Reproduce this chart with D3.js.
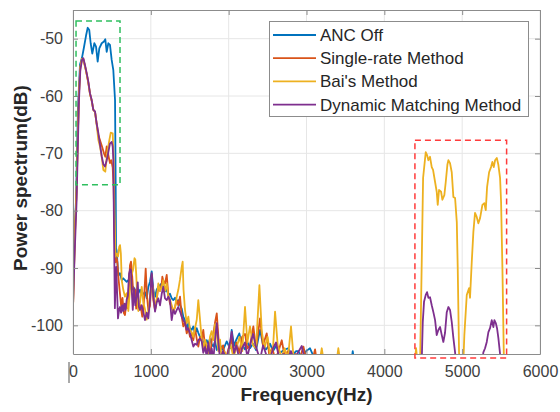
<!DOCTYPE html>
<html lang="en">
<head>
  <meta charset="UTF-8">
  <title>Power spectrum</title>
  <script src="https://d3js.org/d3.v7.min.js"></script>
  <style>
    body {
      margin: 0;
      background: #fff;
      font-family: Arial, "Liberation Sans", sans-serif;
    }
  </style>
</head>
<body>
  <div id="chart"></div>
  <script>
    // tick values
    const xTicks = [0, 1000, 2000, 3000, 4000, 5000, 6000];
    const yTicks = [-100, -90, -80, -70, -60, -50];

    const seriesNames = ["ANC Off", "Single-rate Method", "Bai's Method", "Dynamic Matching Method"];
    const seriesColors = ["#0072BD", "#D95319", "#EDB120", "#7E2F8E"];

    // [frequency (Hz), power (dB)]
    const ancOff = [[0,-91],[39,-78],[64,-62],[90,-54.5],[116,-53.3],[141,-51.5],[167,-49.5],[189,-48.1],[209,-48.5],[227,-50.8],[248,-52.6],[274,-50.8],[296,-51.4],[317,-54.0],[338,-51.7],[369,-50.8],[398,-50.5],[415,-50.1],[433,-52.3],[454,-50.8],[475,-51.1],[497,-53.7],[518,-55.5],[540,-60.7],[548,-75],[553,-86.5],[561,-87],[582,-91.3],[604,-90.9],[626,-92.1],[646,-91.8],[668,-92.1],[690,-92.4],[711,-92.1],[732,-93],[754,-93.8],[775,-93.3],[797,-94.4],[818,-93.5],[839,-94.4],[861,-93.8],[883,-94.7],[903,-94.5],[925,-94.2],[947,-95.3],[968,-93.3],[989,-92.4],[1011,-90.6],[1032,-93.8],[1054,-95],[1075,-93.8],[1096,-93.3],[1118,-93],[1140,-92.7],[1160,-93.3],[1182,-94.1],[1204,-93.8],[1225,-94.7],[1246,-94.5],[1268,-95.3],[1289,-95.6],[1311,-95.2],[1333,-95.9],[1353,-95.6],[1375,-96.5],[1397,-97.1],[1417,-98.5],[1439,-99.1],[1461,-100.8],[1482,-99.6],[1503,-100.5],[1525,-100.8],[1546,-100.2],[1568,-101.4],[1590,-100.5],[1610,-101.3],[1632,-102],[1654,-102.3],[1674,-103.1],[1696,-103.7],[1718,-102.6],[1739,-103.2],[1760,-102.3],[1782,-103.3],[1803,-103.7],[1825,-102.8],[1847,-104.3],[1889,-103.4],[1928,-104.3],[1975,-102.8],[2017,-104],[2039,-100.8],[2069,-103.6],[2095,-102.6],[2137,-101.4],[2172,-103.6],[2210,-104.2],[2232,-102.6],[2274,-104],[2313,-103.2],[2352,-104.3],[2403,-100.8],[2442,-103.5],[2480,-104.2],[2531,-103.2],[2570,-104.5],[2609,-103.6],[2660,-104.8],[2711,-104.3],[2763,-104],[2814,-105.3],[2866,-104.5],[2895,-104.5],[2943,-105.8],[2994,-104.5],[3045,-104],[3097,-105.6],[3148,-106.5],[3300,-108],[3570,-107],[3594,-104.5],[3620,-107],[3800,-109]];

    const singleRate = [[0,-97],[13,-90],[30,-82],[47,-76],[60,-68],[77,-59.5],[94,-55],[116,-53.5],[133,-53.6],[154,-54.8],[176,-56.2],[197,-57.7],[218,-59.6],[240,-60.8],[261,-62.4],[283,-62.8],[304,-64.8],[326,-66.8],[347,-67.7],[373,-68.8],[398,-70],[415,-70.6],[433,-68.8],[458,-70.6],[475,-71.7],[492,-71.2],[510,-72.5],[522,-76],[533,-84],[546,-89],[561,-88.3],[570,-89],[586,-92],[600,-94],[620,-96.8],[636,-95.2],[652,-97.8],[668,-98.2],[684,-96.2],[700,-97],[716,-94],[732,-89.5],[745,-88.9],[754,-90.1],[768,-93],[784,-95.6],[797,-93.8],[812,-97.1],[826,-94.4],[845,-97.3],[868,-96.5],[890,-98.5],[910,-96],[934,-90.1],[950,-94.8],[968,-97.3],[989,-96.6],[1011,-91.2],[1032,-95.6],[1054,-97.3],[1075,-95.6],[1096,-93.3],[1118,-94],[1140,-92.7],[1148,-91.5],[1160,-92.2],[1182,-92.7],[1204,-91.2],[1225,-94.7],[1246,-96.2],[1268,-96.8],[1289,-97.6],[1311,-96.8],[1333,-95.6],[1353,-96.5],[1375,-95],[1397,-98.5],[1417,-100.2],[1439,-99.5],[1461,-101.4],[1482,-100.5],[1503,-102],[1525,-101.4],[1546,-102.6],[1568,-100.5],[1590,-102.4],[1610,-103.7],[1632,-102],[1654,-102.6],[1674,-100.8],[1696,-103.7],[1718,-104.5],[1739,-103.6],[1760,-106],[1782,-102.6],[1803,-101.5],[1825,-99.5],[1847,-97.9],[1868,-102],[1889,-104.5],[1928,-103.5],[1960,-106],[2000,-104],[2039,-102.5],[2069,-105],[2100,-103],[2137,-104.8],[2172,-102],[2210,-101.5],[2240,-104],[2274,-103.5],[2317,-100.2],[2352,-104],[2403,-98.8],[2440,-103.5],[2489,-101.4],[2520,-105],[2560,-104],[2600,-106],[2640,-104.5],[2682,-102.6],[2720,-105.5],[2760,-104.5],[2800,-106],[2860,-105],[2900,-106.5],[2960,-103.7],[3000,-106],[3060,-107],[3110,-104.2],[3140,-107],[3300,-110]];

    const baiMethod = [[0,-97],[13,-90],[30,-82],[47,-76],[60,-68],[77,-59.5],[94,-55],[116,-53.5],[133,-53.6],[154,-54.8],[176,-56.2],[197,-57.7],[218,-59.6],[240,-60.8],[261,-62.4],[283,-62.8],[304,-65],[326,-67.7],[347,-68.8],[369,-70.6],[390,-72.9],[415,-73.2],[441,-69.7],[467,-67.7],[485,-66.4],[510,-66.5],[522,-71],[533,-80],[546,-88],[561,-87.5],[578,-88],[594,-86.3],[604,-86],[615,-87.5],[626,-92.1],[646,-93.8],[668,-95],[690,-94.4],[711,-97.5],[725,-95],[745,-91.5],[770,-90.4],[790,-88.3],[800,-88.5],[812,-91],[826,-95.3],[839,-97.5],[861,-96],[883,-93.3],[903,-96],[925,-97.2],[947,-99],[968,-97.5],[989,-95],[1011,-92.7],[1032,-93.8],[1054,-97.3],[1075,-95.5],[1096,-92.7],[1118,-94],[1140,-93.3],[1160,-92.1],[1182,-94],[1204,-92.7],[1225,-95],[1246,-95.5],[1268,-96.5],[1289,-97.5],[1311,-96.8],[1333,-95],[1353,-93.8],[1375,-92],[1397,-89.8],[1409,-88.9],[1420,-93.8],[1439,-97.3],[1461,-99.6],[1482,-98.5],[1503,-100.8],[1525,-101.2],[1546,-102],[1568,-100.5],[1590,-99],[1610,-95.6],[1632,-99],[1654,-102.5],[1674,-104],[1696,-102.5],[1718,-103.5],[1739,-104.8],[1760,-102],[1782,-101],[1803,-102.6],[1825,-99.8],[1847,-101.5],[1868,-104.5],[1889,-102.5],[1910,-106],[1950,-104.6],[1990,-106],[2017,-103],[2060,-105.5],[2100,-104],[2140,-102],[2175,-104.5],[2210,-96.8],[2240,-103],[2274,-100.2],[2313,-103.5],[2352,-104],[2395,-93],[2425,-101],[2460,-104],[2500,-102],[2531,-105],[2570,-104],[2596,-97.6],[2630,-103.5],[2680,-105.5],[2720,-104],[2760,-106],[2801,-100.2],[2830,-105],[2870,-106],[2920,-105.5],[2960,-106],[3000,-107],[3150,-108],[3196,-104],[3240,-108],[3370,-108],[3409,-104],[3450,-108],[4380,-108],[4408,-104],[4430,-107],[4459,-107],[4498,-74.3],[4532,-69.8],[4549,-70.3],[4566,-71.2],[4587,-70.6],[4609,-72.4],[4626,-72.9],[4652,-75],[4673,-76.7],[4686,-79],[4703,-76.4],[4729,-76.7],[4746,-78.1],[4771,-77.3],[4789,-75],[4810,-72],[4823,-71.2],[4844,-71.7],[4866,-73.3],[4887,-77.6],[4909,-77.8],[4931,-82],[4943,-90],[4960,-104.8],[4973,-108],[5011,-108],[5028,-101.7],[5059,-94.7],[5089,-93.5],[5101,-95.2],[5123,-89],[5144,-83.7],[5165,-80.4],[5187,-81.1],[5208,-82.2],[5230,-81.3],[5260,-79],[5285,-78.7],[5303,-79.9],[5320,-75.9],[5346,-73.3],[5371,-72.4],[5388,-71.5],[5406,-72.4],[5423,-71.2],[5445,-70.8],[5465,-72],[5487,-74.3],[5500,-78.5],[5517,-90],[5535,-105],[5552,-108],[6000,-110]];

    const dynamicMatching = [[0,-96.8],[20,-88],[47,-78],[60,-70],[77,-60.7],[94,-55.5],[116,-53.7],[133,-53.4],[154,-54.6],[176,-56],[197,-57.5],[218,-59.5],[240,-60.7],[261,-62.4],[283,-62.7],[304,-64.8],[326,-66.5],[347,-68.5],[369,-70.5],[390,-71.9],[411,-72.3],[433,-71.2],[454,-69.8],[475,-68.3],[497,-68],[510,-68.8],[518,-71],[528,-85],[538,-97],[548,-92.1],[556,-89.8],[566,-94],[578,-98.8],[592,-97.3],[604,-96.8],[618,-97.8],[632,-96.5],[646,-97.5],[660,-96.2],[675,-97.3],[690,-95.5],[705,-94.8],[720,-91],[735,-90.2],[745,-90.4],[754,-93.8],[768,-97.3],[785,-93.5],[800,-96.5],[818,-95],[832,-92.5],[847,-96.8],[861,-97.3],[882,-96.5],[903,-97.6],[925,-99.1],[947,-97.8],[968,-98.8],[989,-95.6],[1011,-90.9],[1032,-94.9],[1054,-97.6],[1075,-96],[1096,-95.3],[1118,-96.5],[1140,-94.5],[1160,-93.3],[1182,-95.3],[1204,-95.6],[1225,-95],[1246,-95.6],[1268,-99.1],[1289,-97.3],[1311,-98],[1333,-97.3],[1353,-96.8],[1375,-97.6],[1397,-98.5],[1417,-99.1],[1439,-99.6],[1461,-100.8],[1482,-100.5],[1503,-101.4],[1525,-102.6],[1546,-103.7],[1568,-103.2],[1590,-103.4],[1610,-102.6],[1632,-102.3],[1654,-102.8],[1674,-104.8],[1696,-103.8],[1718,-105.5],[1739,-103],[1760,-105.5],[1782,-104],[1803,-106],[1825,-102.5],[1847,-99.6],[1868,-103],[1889,-106],[1928,-104.5],[1975,-106],[2017,-103],[2039,-101.1],[2069,-104.8],[2100,-103.5],[2137,-106],[2172,-104],[2210,-103],[2240,-105.5],[2274,-103.5],[2313,-101.5],[2352,-103.8],[2403,-106],[2442,-103.5],[2480,-105],[2531,-106],[2570,-104],[2609,-103],[2650,-106],[2700,-105],[2750,-106],[2800,-104.5],[2840,-106],[2880,-105],[2939,-103.6],[2970,-105.5],[3000,-107],[4460,-108],[4481,-106],[4494,-99.4],[4510,-95.9],[4532,-94.7],[4549,-94.2],[4566,-95.2],[4587,-95.1],[4609,-96.5],[4630,-97.7],[4652,-99.1],[4673,-101.7],[4694,-100.8],[4716,-100.3],[4738,-101.7],[4758,-102.9],[4780,-101.3],[4802,-97.7],[4823,-96.8],[4844,-97.3],[4866,-99.4],[4887,-102.2],[4909,-104.7],[4928,-108],[5250,-108],[5272,-104.7],[5294,-104],[5316,-102.9],[5337,-101.2],[5358,-100.5],[5380,-99.1],[5401,-100.3],[5414,-99.1],[5432,-99.6],[5448,-100.5],[5465,-102.2],[5487,-105],[5500,-108],[6000,-110]];

    // highlighted regions: [x0, x1, y0, y1] in data units
    const lowBandBox = [39, 604, -46.9, -75.5];
    const highBandBox = [4393, 5571, -67.7, -105.7];

    const allSeries = [ancOff, singleRate, baiMethod, dynamicMatching];

    const width = 560;
    const height = 412;
    const margin = { top: 10, right: 20, bottom: 58, left: 73 };

    const x = d3.scaleLinear().domain([0, 6000]).range([margin.left, width - margin.right]);
    const y = d3.scaleLinear().domain([-105, -45]).range([height - margin.bottom, margin.top]);

    const svg = d3.select("#chart")
      .append("svg")
      .attr("width", width)
      .attr("height", height)
      .style("font-family", "Arial, 'Liberation Sans', sans-serif");

    svg.append("defs").append("clipPath")
      .attr("id", "plot-clip")
      .append("rect")
      .attr("x", margin.left)
      .attr("y", margin.top)
      .attr("width", width - margin.left - margin.right)
      .attr("height", height - margin.top - margin.bottom);

    // grid
    svg.append("g")
      .selectAll("line.vgrid")
      .data(xTicks)
      .join("line")
      .attr("x1", d => x(d)).attr("x2", d => x(d))
      .attr("y1", margin.top).attr("y2", height - margin.bottom)
      .attr("stroke", "#e6e6e6");
    svg.append("g")
      .selectAll("line.hgrid")
      .data(yTicks)
      .join("line")
      .attr("x1", margin.left).attr("x2", width - margin.right)
      .attr("y1", d => y(d)).attr("y2", d => y(d))
      .attr("stroke", "#e6e6e6");

    // spectra
    const line = d3.line()
      .x(d => x(d[0]))
      .y(d => y(d[1]));

    svg.append("g")
      .attr("clip-path", "url(#plot-clip)")
      .selectAll("path")
      .data(allSeries)
      .join("path")
      .attr("d", line)
      .attr("fill", "none")
      .attr("stroke", (d, i) => seriesColors[i])
      .attr("stroke-width", 1.8)
      .attr("stroke-linejoin", "round");

    // axes (MATLAB-like box with inward ticks)
    const axisColor = "#8c8c8c";
    function styleAxis(g) {
      g.selectAll(".domain").attr("stroke", axisColor);
      g.selectAll(".tick line").attr("stroke", axisColor);
      g.selectAll(".tick text")
        .attr("fill", "#404040")
        .style("font-size", "16px")
        .style("font-family", "Arial, 'Liberation Sans', sans-serif");
    }

    svg.append("g")
      .attr("transform", `translate(0,${height - margin.bottom})`)
      .call(d3.axisBottom(x).tickValues(xTicks).tickFormat(d => String(d))
        .tickSizeInner(-5).tickSizeOuter(0).tickPadding(12))
      .call(styleAxis);
    svg.append("g")
      .attr("transform", `translate(0,${margin.top})`)
      .call(d3.axisTop(x).tickValues(xTicks).tickFormat("")
        .tickSizeInner(-5).tickSizeOuter(0))
      .call(styleAxis);
    svg.append("g")
      .attr("transform", `translate(${margin.left},0)`)
      .call(d3.axisLeft(y).tickValues(yTicks).tickFormat(d => String(d))
        .tickSizeInner(-5).tickSizeOuter(0).tickPadding(10))
      .call(styleAxis);
    svg.append("g")
      .attr("transform", `translate(${width - margin.right},0)`)
      .call(d3.axisRight(y).tickValues(yTicks).tickFormat("")
        .tickSizeInner(-5).tickSizeOuter(0))
      .call(styleAxis);

    // small stray bar next to the "0" label
    svg.append("line")
      .attr("x1", x(0) - 4).attr("x2", x(0) - 4)
      .attr("y1", height - margin.bottom + 8).attr("y2", height - margin.bottom + 29)
      .attr("stroke", "#555")
      .attr("stroke-width", 1);

    // axis labels
    svg.append("text")
      .attr("x", (margin.left + width - margin.right) / 2)
      .attr("y", 401)
      .attr("text-anchor", "middle")
      .attr("font-weight", "bold")
      .attr("font-size", 19)
      .attr("fill", "#262626")
      .text("Frequency(Hz)");

    svg.append("text")
      .attr("transform", `translate(27,${(margin.top + height - margin.bottom) / 2 - 4}) rotate(-90)`)
      .attr("text-anchor", "middle")
      .attr("font-weight", "bold")
      .attr("font-size", 19)
      .attr("fill", "#262626")
      .text("Power spectrum(dB)");

    // dashed region boxes
    function regionBox(b, color) {
      svg.append("rect")
        .attr("x", x(b[0]))
        .attr("y", y(b[2]))
        .attr("width", x(b[1]) - x(b[0]))
        .attr("height", y(b[3]) - y(b[2]))
        .attr("fill", "none")
        .attr("stroke", color)
        .attr("stroke-width", 1.5)
        .attr("stroke-dasharray", "6,4");
    }
    regionBox(lowBandBox, "#2fbf5f");
    regionBox(highBandBox, "#ff3b3b");

    // legend
    const legend = svg.append("g");
    legend.append("rect")
      .attr("x", 269.5).attr("y", 21.5)
      .attr("width", 259).attr("height", 95)
      .attr("fill", "#fff")
      .attr("stroke", "#8c8c8c");
    seriesNames.forEach((name, i) => {
      const ly = 35 + i * 23.2;
      legend.append("line")
        .attr("x1", 273).attr("x2", 316)
        .attr("y1", ly).attr("y2", ly)
        .attr("stroke", seriesColors[i])
        .attr("stroke-width", 1.8);
      legend.append("text")
        .attr("x", 320)
        .attr("y", ly)
        .attr("dy", "0.35em")
        .attr("font-size", 17)
        .attr("fill", "#262626")
        .text(name);
    });
  </script>
</body>
</html>
